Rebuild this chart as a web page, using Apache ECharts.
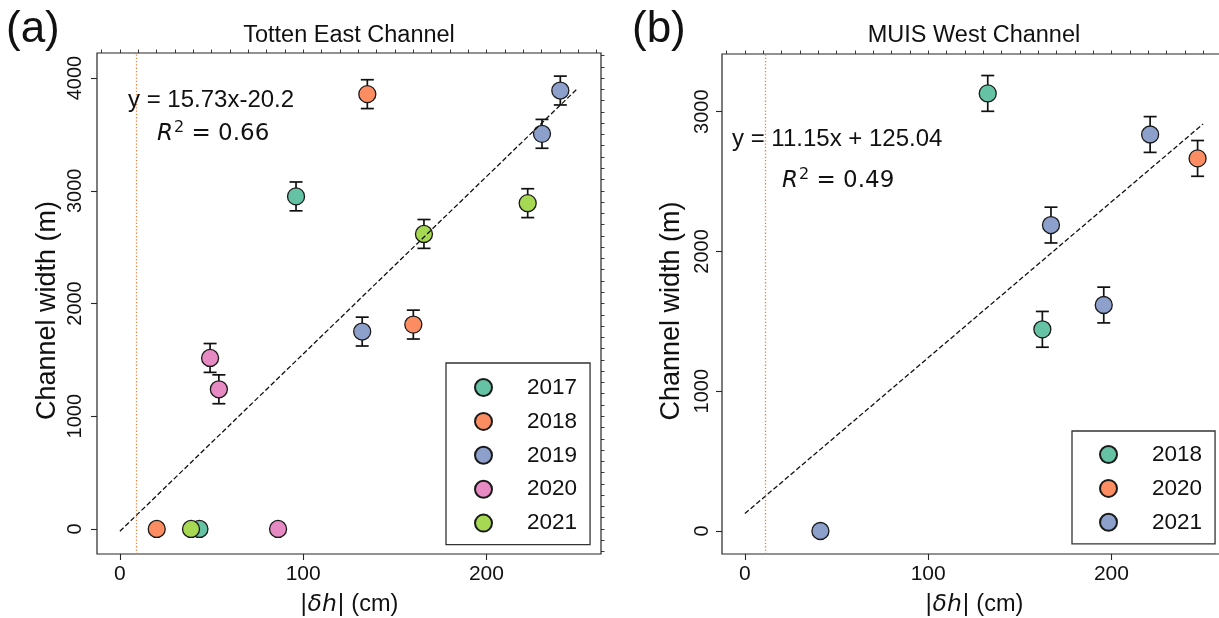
<!DOCTYPE html>
<html>
<head>
<meta charset="utf-8">
<script src="https://cdn.jsdelivr.net/npm/echarts@6/dist/echarts.min.js"></script>
<style>
html,body{margin:0;padding:0;background:#fff;}
#chart{width:1219px;height:618px;}
</style>
</head>
<body>
<div id="chart"></div>
<script>
// ---------- Data: panel (a) Totten East Channel ----------
var yearsA = ['2017', '2018', '2019', '2020', '2021'];
var colorsA = ['#66c2a5', '#fc8d62', '#8da0cb', '#e78ac3', '#a6d854'];
var dhA_2017 = [96.1, 43.4];
var wA_2017 = [2950, 0];
var errA_2017 = [128, 0];
var dhA_2018 = [135.0, 160.1, 20.1];
var wA_2018 = [3857, 1813, 0];
var errA_2018 = [128, 128, 0];
var dhA_2019 = [240.3, 230.3, 132.2];
var wA_2019 = [3889, 3505, 1751];
var errA_2019 = [128, 128, 128];
var dhA_2020 = [49.2, 54.0, 86.3];
var wA_2020 = [1517, 1239, 0];
var errA_2020 = [128, 128, 0];
var dhA_2021 = [165.9, 222.5, 38.8];
var wA_2021 = [2617, 2890, 0];
var errA_2021 = [128, 128, 0];
var fitA = [[0, -20.2], [250, 3912.3]];
var vlineA = 8.8;

// ---------- Data: panel (b) MUIS West Channel ----------
var yearsB = ['2018', '2020', '2021'];
var colorsB = ['#66c2a5', '#fc8d62', '#8da0cb'];
var dhB_2018 = [132.5, 162.3];
var wB_2018 = [3131, 1443];
var errB_2018 = [128, 128];
var dhB_2020 = [247.0];
var wB_2020 = [2666];
var errB_2020 = [128];
var dhB_2021 = [221.1, 167.0, 195.8, 41.2];
var wB_2021 = [2837, 2189, 1617, 0];
var errB_2021 = [128, 128, 128, 0];
var fitB = [[0, 125.04], [250, 2912.5]];
var vlineB = 11.1;

// ---------- Ticks ----------
var xMajor = [0, 100, 200];
var yMajorA = [0, 1000, 2000, 3000, 4000];
var yMajorB = [0, 1000, 2000, 3000];

var dhA = [dhA_2017, dhA_2018, dhA_2019, dhA_2020, dhA_2021];
var wA = [wA_2017, wA_2018, wA_2019, wA_2020, wA_2021];
var eA = [errA_2017, errA_2018, errA_2019, errA_2020, errA_2021];
var dhB = [dhB_2018, dhB_2020, dhB_2021];
var wB = [wB_2018, wB_2020, wB_2021];
var eB = [errB_2018, errB_2020, errB_2021];

function range(a, b, s) { var r = []; for (var v = a; v <= b + 1e-9; v += s) r.push(Math.round(v)); return r; }
var xMinor = range(-10, 260, 10);
var yMinorA = range(-200, 4200, 100);
var yMinorB = range(-100, 3400, 100);

var FONT = '"Liberation Sans", Arial, sans-serif';
var TICK = '#262626';

var chart = echarts.init(document.getElementById('chart'), null, {renderer: 'canvas'});

var grids = [
  {left: 97, top: 53, width: 504, height: 501, show: true, borderColor: '#262626', borderWidth: 1.2,
   backgroundColor: 'transparent', containLabel: false, outerBoundsMode: 'none'},
  {left: 722, top: 54, width: 504, height: 500, show: true, borderColor: '#262626', borderWidth: 1.2,
   backgroundColor: 'transparent', containLabel: false, outerBoundsMode: 'none'}
];

function plain(v) { return String(v); }

function xMain(gi) {
  return {type: 'value', gridIndex: gi, min: -12.5, max: 262.5,
    axisLine: {show: false, onZero: false}, splitLine: {show: false},
    axisTick: {show: true, inside: false, length: 6, lineStyle: {color: TICK, width: 1.1}, customValues: xMajor},
    axisLabel: {show: true, margin: 10, fontSize: 21, color: '#111', fontFamily: FONT, customValues: xMajor, formatter: plain},
    name: '{m||}{i|δh}{m||} (cm)', nameLocation: 'middle', nameGap: 39,
    nameTextStyle: {fontSize: 23.5, color: '#111', fontFamily: FONT,
      rich: {m: {fontFamily: '"DejaVu Sans"', fontSize: 23.5, color: '#111'},
             i: {fontFamily: '"DejaVu Sans"', fontStyle: 'italic', fontSize: 23.5, color: '#111'}}}
  };
}
function xMinorAx(gi) {
  return {type: 'value', gridIndex: gi, min: -12.5, max: 262.5,
    axisLine: {show: false, onZero: false}, splitLine: {show: false}, axisLabel: {show: false},
    axisTick: {show: true, inside: false, length: 3.5, lineStyle: {color: TICK, width: 0.9}, customValues: xMinor}
  };
}
function yMain(gi, mn, mx, major, margin, gap) {
  return {type: 'value', gridIndex: gi, min: mn, max: mx,
    axisLine: {show: false, onZero: false}, splitLine: {show: false},
    axisTick: {show: true, inside: false, length: 6, lineStyle: {color: TICK, width: 1.1}, customValues: major},
    axisLabel: {show: true, rotate: 90, margin: margin, fontSize: 20, color: '#111', fontFamily: FONT, customValues: major, formatter: plain},
    name: 'Channel width (m)', nameLocation: 'middle', nameGap: gap, nameRotate: 90,
    nameTextStyle: {fontSize: 27, color: '#111', fontFamily: FONT, padding: [0, 14, 0, 0]}
  };
}
function yMinorAx(gi, mn, mx, minor) {
  return {type: 'value', gridIndex: gi, min: mn, max: mx,
    axisLine: {show: false, onZero: false}, splitLine: {show: false}, axisLabel: {show: false},
    axisTick: {show: true, inside: false, length: 3.5, lineStyle: {color: TICK, width: 0.9}, customValues: minor}
  };
}

var series = [];

function errSeries(xi, yi, xs, ys, es) {
  var data = [];
  for (var k = 0; k < xs.length; k++) {
    for (var j = 0; j < xs[k].length; j++) {
      if (es[k][j] > 0) data.push([xs[k][j], ys[k][j], es[k][j]]);
    }
  }
  return {
    type: 'custom', xAxisIndex: xi, yAxisIndex: yi, z: 2, silent: true,
    data: data,
    renderItem: function (params, api) {
      var x = api.value(0), y = api.value(1), e = api.value(2);
      var top = api.coord([x, y + e]);
      var bot = api.coord([x, y - e]);
      var cw = 6.5;
      var st = {stroke: '#111', lineWidth: 1.7};
      return {type: 'group', children: [
        {type: 'line', shape: {x1: top[0], y1: top[1], x2: bot[0], y2: bot[1]}, style: st},
        {type: 'line', shape: {x1: top[0] - cw, y1: top[1], x2: top[0] + cw, y2: top[1]}, style: st},
        {type: 'line', shape: {x1: bot[0] - cw, y1: bot[1], x2: bot[0] + cw, y2: bot[1]}, style: st}
      ]};
    }
  };
}

series.push(errSeries(0, 0, dhA, wA, eA));
series.push(errSeries(2, 2, dhB, wB, eB));

yearsA.forEach(function (yr, k) {
  var d = dhA[k].map(function (x, j) { return [x, wA[k][j]]; });
  series.push({type: 'scatter', name: yr, xAxisIndex: 0, yAxisIndex: 0, z: 3,
    symbol: 'circle', symbolSize: 17, data: d,
    itemStyle: {color: colorsA[k], borderColor: '#1a1a1a', borderWidth: 1.3, opacity: 1}});
});
yearsB.forEach(function (yr, k) {
  var d = dhB[k].map(function (x, j) { return [x, wB[k][j]]; });
  series.push({type: 'scatter', name: 'B' + yr, xAxisIndex: 2, yAxisIndex: 2, z: 3,
    symbol: 'circle', symbolSize: 17, data: d,
    itemStyle: {color: colorsB[k], borderColor: '#1a1a1a', borderWidth: 1.3, opacity: 1}});
});

function fitSeries(xi, yi, pts, vx) {
  return {type: 'line', xAxisIndex: xi, yAxisIndex: yi, z: 4, silent: true,
    data: pts, symbol: 'none', showSymbol: false,
    lineStyle: {color: '#111', width: 1.3, type: [5, 2.5]},
    markLine: {silent: true, symbol: ['none', 'none'], label: {show: false},
      lineStyle: {color: '#e8823c', width: 1.3, type: [1.3, 2]},
      data: [{xAxis: vx}]}
  };
}
series.push(fitSeries(0, 0, fitA, vlineA));
series.push(fitSeries(2, 2, fitB, vlineB));

var legendCommon = {
  orient: 'vertical', itemWidth: 17, itemHeight: 17, itemGap: 10.9,
  backgroundColor: '#fff', borderColor: '#333', borderWidth: 1.3, borderRadius: 0,
  selectedMode: false, icon: 'circle',
  textStyle: {fontSize: 22.5, color: '#111', fontFamily: FONT, padding: [0, 0, 0, 30]}
};

var option = {
  animation: false,
  backgroundColor: '#fff',
  grid: grids,
  xAxis: [xMain(0), xMinorAx(0), xMain(1), xMinorAx(1)],
  yAxis: [yMain(0, -222, 4222, yMajorA, 12, 36), yMinorAx(0, -222, 4222, yMinorA),
          yMain(1, -164.5, 3413, yMajorB, 10, 37), yMinorAx(1, -164.5, 3413, yMinorB)],
  legend: [
    Object.assign({}, legendCommon, {left: 446, top: 363, padding: [13, 13, 10, 28], data: yearsA}),
    Object.assign({}, legendCommon, {left: 1072, top: 431, padding: [12, 13, 10, 27],
      data: yearsB.map(function (y) { return 'B' + y; }),
      formatter: function (n) { return n.slice(1); }})
  ],
  series: series,
  graphic: [
    {type: 'text', left: 6, top: 8, style: {text: '(a)', fontSize: 44, fontFamily: FONT, fill: '#111'}},
    {type: 'text', left: 632, top: 8, style: {text: '(b)', fontSize: 44, fontFamily: FONT, fill: '#111'}},
    {type: 'text', x: 349, y: 36, style: {text: 'Totten East Channel', fontSize: 23.5, fontFamily: FONT, fill: '#111', align: 'center', verticalAlign: 'middle'}},
    {type: 'text', x: 974, y: 36, style: {text: 'MUIS West Channel', fontSize: 23.5, fontFamily: FONT, fill: '#111', align: 'center', verticalAlign: 'middle'}},
    {type: 'text', x: 128, y: 100, z: 10, style: {text: 'y = 15.73x-20.2', fontSize: 24, fontFamily: FONT, fill: '#111', align: 'left', verticalAlign: 'middle'}},
    {type: 'text', x: 157, y: 134, z: 10, style: {text: '{i|R}{s|2}{n| = 0.66}', align: 'left', verticalAlign: 'middle',
      rich: {i: {fontFamily: '"DejaVu Sans"', fontStyle: 'italic', fontSize: 23, fill: '#111'},
             s: {fontFamily: '"DejaVu Sans"', fontSize: 16, fill: '#111', padding: [0, 0, 13, 1]},
             n: {fontFamily: '"DejaVu Sans"', fontSize: 23, fill: '#111'}}}},
    {type: 'text', x: 732, y: 139, z: 10, style: {text: 'y = 11.15x + 125.04', fontSize: 24, fontFamily: FONT, fill: '#111', align: 'left', verticalAlign: 'middle'}},
    {type: 'text', x: 782, y: 181, z: 10, style: {text: '{i|R}{s|2}{n| = 0.49}', align: 'left', verticalAlign: 'middle',
      rich: {i: {fontFamily: '"DejaVu Sans"', fontStyle: 'italic', fontSize: 23, fill: '#111'},
             s: {fontFamily: '"DejaVu Sans"', fontSize: 16, fill: '#111', padding: [0, 0, 13, 1]},
             n: {fontFamily: '"DejaVu Sans"', fontSize: 23, fill: '#111'}}}}
  ]
};
chart.setOption(option);
</script>
</body>
</html>
